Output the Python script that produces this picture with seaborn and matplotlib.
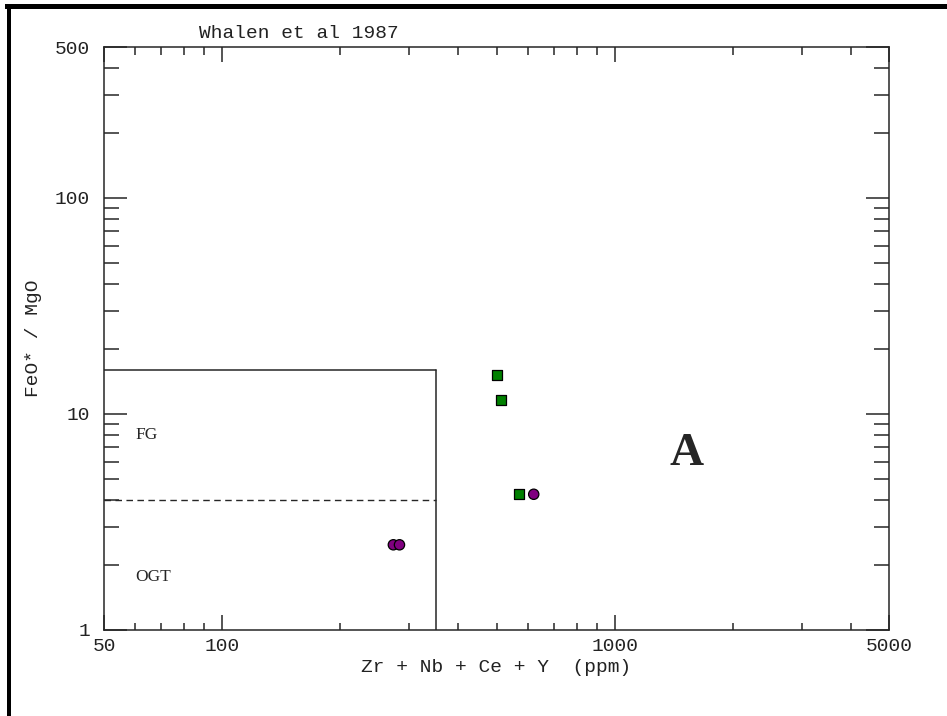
import matplotlib
matplotlib.use("Agg")
import matplotlib.pyplot as plt
from matplotlib.patches import Rectangle
from matplotlib.ticker import FixedLocator, NullFormatter
import seaborn as sns
import pandas as pd

# Sample compositions: Zr+Nb+Ce+Y (ppm) vs FeO*/MgO
square_x = [501, 514, 570]
square_y = [15.2, 11.6, 4.25]
circle_x = [273, 283, 622]
circle_y = [2.48, 2.48, 4.25]

# Field boundaries (Whalen et al. 1987)
field_x_max = 350
field_y_max = 16
fg_ogt_split = 4

x_ticks = [50, 100, 1000, 5000]
y_ticks = [1, 10, 100, 500]
x_minor = [60, 70, 80, 90, 200, 300, 400, 500, 600, 700, 800, 900, 2000, 3000, 4000]
y_minor = [2, 3, 4, 5, 6, 7, 8, 9, 20, 30, 40, 50, 60, 70, 80, 90, 200, 300, 400]

df = pd.DataFrame({
    "zr_nb_ce_y": square_x + circle_x,
    "feo_mgo": square_y + circle_y,
    "group": ["square"] * len(square_x) + ["circle"] * len(circle_x),
})

sns.set_style("white")
mono = ["Liberation Mono", "DejaVu Sans Mono"]
serif = ["Liberation Serif", "DejaVu Serif"]

fig = plt.figure(figsize=(9.47, 7.16), dpi=100)
ax = fig.add_axes([104 / 947, 1 - 630 / 716, 785 / 947, 583 / 716])
ax.set_xscale("log")
ax.set_yscale("log")
ax.set_xlim(50, 5000)
ax.set_ylim(1, 500)

ink = "#262626"
lw = 1.1

# Field outline and FG / OGT divider
ax.plot([50, field_x_max], [field_y_max, field_y_max], color=ink, lw=lw)
ax.plot([field_x_max, field_x_max], [1, field_y_max], color=ink, lw=lw)
ax.plot([50, field_x_max], [fg_ogt_split, fg_ogt_split], color=ink, lw=1.0,
        ls=(0, (4.7, 3.2)))

sns.scatterplot(
    data=df, x="zr_nb_ce_y", y="feo_mgo", hue="group", style="group",
    markers={"square": "s", "circle": "o"},
    palette={"square": "#008000", "circle": "#800080"},
    s=55, edgecolor="black", linewidth=0.9, legend=False, ax=ax, zorder=5,
)

ax.text(60, 7.64, "FG", fontsize=12.5, family=serif, ha="left", va="baseline")
ax.text(60, 1.69, "OGT", fontsize=12.5, family=serif, ha="left", va="baseline")
ax.text(1529, 5.8, "A", fontsize=34, fontweight="bold", family=serif,
        ha="center", va="baseline")

# Axes and ticks
for sp in ax.spines.values():
    sp.set_color(ink)
    sp.set_linewidth(lw)

ax.xaxis.set_major_locator(FixedLocator(x_ticks))
ax.xaxis.set_minor_locator(FixedLocator(x_minor))
ax.yaxis.set_major_locator(FixedLocator(y_ticks))
ax.yaxis.set_minor_locator(FixedLocator(y_minor))
ax.set_xticklabels([str(v) for v in x_ticks])
ax.set_yticklabels([str(v) for v in y_ticks])
ax.xaxis.set_minor_formatter(NullFormatter())
ax.yaxis.set_minor_formatter(NullFormatter())

ax.tick_params(which="both", direction="in", top=True, right=True,
               bottom=True, left=True,
               color=ink, width=1.1, labelsize=14, labelcolor="#222222")
ax.tick_params(axis="x", which="major", length=10.8, pad=6)
ax.tick_params(axis="x", which="minor", length=5.4)
ax.tick_params(axis="y", which="major", length=16.6, pad=10)
ax.tick_params(axis="y", which="minor", length=10.8)
for lab in ax.get_xticklabels() + ax.get_yticklabels():
    lab.set_family(mono)

ax.set_xlabel("Zr + Nb + Ce + Y  (ppm)", fontsize=14, family=mono, color="#222222")
ax.set_ylabel("FeO* / MgO", fontsize=14, family=mono, color="#222222")
ax.xaxis.set_label_coords(0.5, -0.0635)
ax.xaxis.label.set_va("center")
ax.yaxis.set_label_coords(-0.0904, 0.5)
ax.yaxis.label.set_va("center")

fig.text(199 / 947, 1 - 38 / 716, "Whalen et al 1987", fontsize=14, family=mono,
         color="#222222", ha="left", va="baseline")

# Frame edges along the top and left of the figure
fig.add_artist(Rectangle((5 / 947, 1 - 8.5 / 716), 1, 4.5 / 716,
                         transform=fig.transFigure, color="black", lw=0))
fig.add_artist(Rectangle((6.5 / 947, 0), 4.5 / 947, 1 - 4 / 716,
                         transform=fig.transFigure, color="black", lw=0))

fig.savefig("out.png", dpi=100, facecolor="white")
